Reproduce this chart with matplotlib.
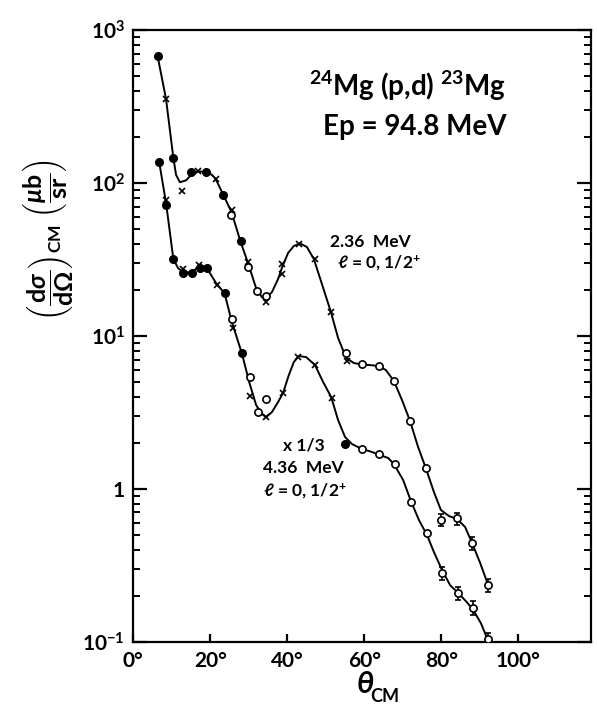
import matplotlib
matplotlib.use("Agg")
import matplotlib.pyplot as plt
from matplotlib.ticker import FixedLocator, LogLocator, NullFormatter
import numpy as np

# ---- data (theta in deg, cross section in ub/sr) ----
# 2.36 MeV, l=0
up_fill_x = [6.3, 10.4, 14.9, 19.0, 23.4, 27.9]
up_fill_y = [676, 146, 118, 117, 83, 41.7]
up_cross_x = [8.5, 12.6, 16.9, 21.5, 25.6, 29.9, 34.5, 38.6, 38.7, 43.1, 47.1, 51.4, 55.5]
up_cross_y = [354, 89, 119, 106, 66.5, 30.2, 16.7, 29.6, 25.3, 40.0, 31.6, 14.4, 6.84]
up_open_x = [25.3, 29.9, 32.2, 34.5, 55.2, 59.3, 63.7, 67.7, 71.9, 76.1]
up_open_y = [61.7, 28.0, 19.6, 18.2, 7.72, 6.52, 6.37, 5.06, 2.77, 1.36]
up_err_x = [79.9, 84.2, 87.9, 92.2]
up_err_y = [0.624, 0.640, 0.443, 0.234]
up_err_e = [0.056, 0.058, 0.044, 0.023]

# 4.36 MeV, l=0 (x 1/3)
lo_fill_x = [6.7, 8.6, 10.4, 12.8, 15.2, 17.3, 19.1, 23.7, 28.2, 55.1]
lo_fill_y = [138, 71.6, 31.8, 25.6, 25.9, 27.6, 27.6, 19.0, 7.69, 1.96]
lo_cross_x = [8.6, 12.9, 17.1, 21.7, 25.8, 30.3, 34.5, 39.0, 42.9, 47.2, 51.5]
lo_cross_y = [77.3, 27.3, 29.0, 21.5, 11.2, 4.04, 2.93, 4.21, 7.30, 6.44, 3.95]
lo_open_x = [25.6, 30.2, 32.5, 34.5, 59.5, 63.8, 67.9, 72.1, 76.3]
lo_open_y = [12.8, 5.41, 3.19, 3.84, 1.82, 1.68, 1.45, 0.822, 0.515]
lo_err_x = [80.1, 84.3, 88.2, 92.2]
lo_err_y = [0.282, 0.207, 0.167, 0.1035]
lo_err_e = [0.028, 0.021, 0.017, 0.010]

# hand drawn guide curves, traced point by point
up_curve_x = [6.3, 8.5, 10.4, 11.1, 12.1, 13.7, 15.2, 16.8, 18.9, 20.4, 21.4, 23.4,
              25.5, 27.8, 29.8, 31.9, 33.4, 34.5, 36.0, 37.6, 38.6, 40.2, 41.7, 43.3,
              45.1, 46.9, 49.0, 51.3, 53.2, 55.3, 57.3, 59.4, 61.5, 63.6, 65.6, 67.7,
              69.8, 71.9, 73.9, 76.0, 78.1, 79.9, 82.0, 84.1, 86.2, 88.0, 90.1, 92.2]
up_curve_y = [676, 354, 146, 113, 101, 104, 114, 119, 118, 113, 106, 83.4,
              64.5, 41.7, 29.9, 20.5, 17.9, 17.7, 19.3, 23.5, 27.8, 34.8, 38.7, 40.2,
              38.1, 31.8, 21.8, 14.4, 9.68, 7.16, 6.64, 6.49, 6.44, 6.35, 5.98, 5.06,
              3.80, 2.77, 1.90, 1.36, 0.951, 0.726, 0.663, 0.634, 0.562, 0.442, 0.327, 0.234]
lo_curve_x = [6.7, 8.5, 10.4, 11.6, 12.9, 15.2, 17.1, 19.1, 21.5, 23.7, 25.6, 28.2,
              30.1, 31.9, 33.4, 34.5, 36.0, 37.6, 38.9, 40.4, 41.7, 43.0, 44.9, 47.2,
              49.3, 51.4, 53.2, 55.0, 56.8, 59.4, 62.0, 63.8, 66.2, 67.7, 70.1, 72.1,
              74.2, 76.3, 78.1, 80.2, 82.3, 84.4, 86.4, 88.2, 90.3, 92.2]
lo_curve_y = [138, 74.0, 31.8, 27.8, 26.1, 26.0, 28.6, 27.8, 22.1, 19.0, 12.3, 7.69,
              4.99, 3.53, 3.08, 2.94, 3.17, 3.69, 4.23, 5.54, 6.74, 7.38, 7.26, 6.44,
              4.99, 3.98, 2.81, 2.18, 1.96, 1.82, 1.74, 1.67, 1.59, 1.45, 1.14, 0.832,
              0.624, 0.498, 0.385, 0.294, 0.234, 0.208, 0.184, 0.163, 0.132, 0.101]

x_ticks = [0, 20, 40, 60, 80, 100]
x_ticklabels = ["0°", "20°", "40°", "60°", "80°", "100°"]
y_ticks = [0.1, 1, 10, 100, 1000]
y_ticklabels = [r"$10^{-1}$", "1", r"$10^{1}$", r"$10^{2}$", r"$10^{3}$"]

plt.rcParams['font.family'] = ['Lato', 'DejaVu Sans']
plt.rcParams['font.weight'] = 'bold'
plt.rcParams['mathtext.fontset'] = 'custom'
plt.rcParams['mathtext.rm'] = 'Lato:bold'
plt.rcParams['mathtext.bf'] = 'Lato:bold'
plt.rcParams['mathtext.it'] = 'Lato:bold:italic'
plt.rcParams['mathtext.sf'] = 'Lato:bold'

fig = plt.figure(figsize=(5.97, 7.06), dpi=100)
ax = fig.add_axes([0.2233, 0.0911, 0.7667, 0.8664])

lw = 1.4
for cx, cy in [(up_curve_x, up_curve_y), (lo_curve_x, lo_curve_y)]:
    ax.plot(cx, cy, color='k', lw=lw, zorder=2)

for fx, fy in [(up_fill_x, up_fill_y), (lo_fill_x, lo_fill_y)]:
    ax.plot(fx, fy, linestyle='none', marker='o', ms=5.5, color='k', zorder=3)
for ox, oy in [(up_open_x, up_open_y), (lo_open_x, lo_open_y)]:
    ax.plot(ox, oy, linestyle='none', marker='o', ms=5.2, mfc='white', mec='k',
            mew=1.2, zorder=3)
for xx, xy in [(up_cross_x, up_cross_y), (lo_cross_x, lo_cross_y)]:
    ax.plot(xx, xy, linestyle='none', marker='x', ms=4.5, color='k', mew=1.2, zorder=3)
for ex, ey, ee in [(up_err_x, up_err_y, up_err_e), (lo_err_x, lo_err_y, lo_err_e)]:
    ax.errorbar(ex, ey, yerr=ee, fmt='o', ms=5.2, mfc='white', mec='k', mew=1.2,
                ecolor='k', elinewidth=1.2, capsize=2.5, capthick=1.2, zorder=3)

ax.set_yscale('log')
ax.set_ylim(0.1, 1000)
ax.set_xlim(0, 118.9)

for s in ax.spines.values():
    s.set_linewidth(1.6)

ax.xaxis.set_major_locator(FixedLocator(x_ticks))
ax.set_xticklabels(x_ticklabels, fontsize=15)
ax.yaxis.set_major_locator(FixedLocator(y_ticks))
ax.set_yticklabels(y_ticklabels, fontsize=15)
ax.yaxis.set_minor_locator(LogLocator(base=10, subs=np.arange(2, 10)))
ax.yaxis.set_minor_formatter(NullFormatter())

ax.tick_params(axis='x', which='major', direction='in', length=6, width=1.6,
               top=False, pad=7)
ax.tick_params(axis='y', which='major', direction='in', length=10, width=1.6,
               left=True, right=True, pad=6)
ax.tick_params(axis='y', which='minor', direction='in', length=5, width=1.4,
               left=True, right=True)

# annotations (axes fraction)
ax.text(0.383, 0.909, r"$^{24}$Mg (p,d) $^{23}$Mg", transform=ax.transAxes,
        fontsize=20, ha='left', va='center')
ax.text(0.414, 0.842, "Ep = 94.8 MeV", transform=ax.transAxes,
        fontsize=20, ha='left', va='center')
ax.text(0.430, 0.654, "2.36  MeV", transform=ax.transAxes, fontsize=12.5,
        ha='left', va='center')
ax.text(0.445, 0.618, r"ℓ = 0, 1/2$^{+}$", transform=ax.transAxes, fontsize=12.5,
        ha='left', va='center')
ax.text(0.328, 0.320, "x 1/3", transform=ax.transAxes, fontsize=12.5,
        ha='left', va='center')
ax.text(0.283, 0.284, "4.36  MeV", transform=ax.transAxes, fontsize=12.5,
        ha='left', va='center')
ax.text(0.283, 0.245, r"ℓ = 0, 1/2$^{+}$", transform=ax.transAxes, fontsize=12.5,
        ha='left', va='center')

# axis titles
fig.text(0.612, 0.031, "θ", fontsize=22, style='italic', ha='center', va='center')
fig.text(0.645, 0.013, "CM", fontsize=13, ha='center', va='center')
fig.text(0.08, 0.66,
         r"$\left(\dfrac{\mathrm{d}\sigma}{\mathrm{d}\Omega}\right)_{\mathrm{CM}}\ \left(\dfrac{\mu \mathrm{b}}{\mathrm{sr}}\right)$",
         fontsize=18, rotation=90, ha='center', va='center')

fig.savefig("out.png", dpi=100)
